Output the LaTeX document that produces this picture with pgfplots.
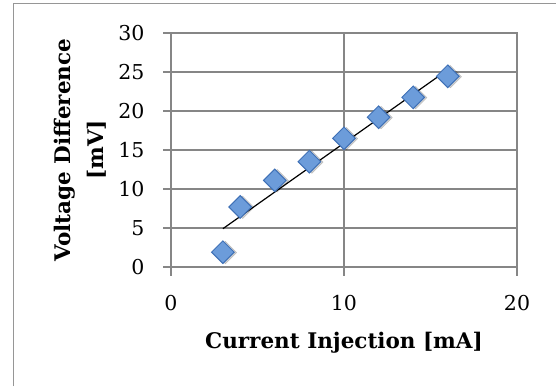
\documentclass[border=0pt]{standalone}
\usepackage{pgfplots}
\pgfplotsset{compat=1.18}
\usepackage{fontspec}
\setmainfont{DejaVu Serif}
\definecolor{gridgray}{RGB}{134,134,134}
\definecolor{framegray}{RGB}{150,150,150}
\definecolor{mfill}{RGB}{108,156,218}
\definecolor{mdraw}{RGB}{62,112,182}
\pgfplotstableread{
x y
3 1.9
4 7.7
6 11.1
8 13.5
10 16.5
12 19.2
14 21.75
16 24.45
}\datatable
\begin{document}
\begin{tikzpicture}[x=1pt,y=1pt]
\path[use as bounding box] (0,0) rectangle (556,386);
\draw[framegray, line width=1pt] (13.5,0) -- (13.5,382) -- (556,382);
\begin{axis}[
  at={(171pt,119pt)}, anchor=south west,
  scale only axis, width=346pt, height=234pt,
  xmin=0, xmax=20, ymin=0, ymax=30,
  xtick={0,10,20}, ytick={0,5,...,30},
  clip=false,
  xmajorgrids, ymajorgrids,
  major grid style={gridgray, line width=1.1pt},
  axis line style={gridgray, line width=1.1pt},
  major tick length=0pt,
  ticklabel style={font=\fontsize{20.5}{22}\selectfont},
  xticklabel style={yshift=-25pt},
  yticklabel style={xshift=-23pt},
  /pgf/number format/assume math mode=true,
  xlabel={Current Injection [mA]},
  ylabel={Voltage Difference\\{}[mV]},
  xlabel style={at={(axis description cs:0.5,0)}, anchor=center, yshift=-76pt, font=\bfseries\fontsize{21.5}{24}\selectfont},
  ylabel style={at={(axis description cs:0,0.5)}, anchor=center, yshift=91pt, align=center, font=\bfseries\fontsize{21.5}{33}\selectfont},
]
\pgfplotsinvokeforeach{0,5,10,15,20,25,30}{
  \draw[gridgray, line width=1.1pt] (axis cs:0,#1) -- ++(-8pt,0pt);
}
\pgfplotsinvokeforeach{0,10,20}{
  \draw[gridgray, line width=1.1pt] (axis cs:#1,0) -- ++(0pt,-9pt);
}
\addplot[only marks, mark=square*, mark size=8pt,
  mark options={rotate=45, xshift=1.5pt, yshift=-2pt, fill=black, draw=none, opacity=0.18}]
  table[x=x,y=y] {\datatable};
\addplot[only marks, mark=square*, mark size=8pt,
  mark options={rotate=45, fill=mfill, draw=mdraw, line width=1pt}]
  table[x=x,y=y] {\datatable};
\addplot[black, line width=1.2pt] coordinates {(3,4.91) (16,25.29)};
\end{axis}
\end{tikzpicture}
\end{document}
